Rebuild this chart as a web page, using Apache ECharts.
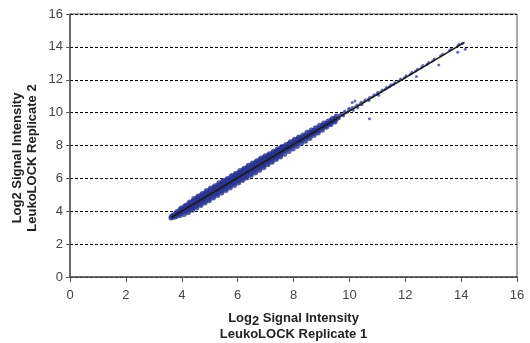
<!DOCTYPE html>
<html>
<head>
<meta charset="utf-8">
<script src="https://cdn.jsdelivr.net/npm/echarts@6/dist/echarts.min.js"></script>
<style>
  html, body { margin: 0; padding: 0; background: #fff; }
  #chart { width: 530px; height: 343px; }
</style>
</head>
<body>
<div id="chart"></div>
<script>
// axis ticks
const axisTicks = [0, 2, 4, 6, 8, 10, 12, 14, 16];

// replicate 1 (x) vs replicate 2 (y)
const densePoints = [
  [3.62,3.60],[3.65,3.70],[3.68,3.64],[3.70,3.76],
  [3.76,3.74],[3.79,3.88],[3.82,3.79],[3.84,3.97],[3.78,3.66],[3.85,3.84],
  [3.91,3.86],[3.94,4.04],[3.97,3.95],[3.99,4.18],[3.93,3.74],[4.00,3.99],[3.96,4.12],
  [4.06,3.98],[4.09,4.20],[4.12,4.09],[4.14,4.35],[4.08,3.82],[4.15,4.16],[4.11,4.27],
  [4.21,4.15],[4.24,4.38],[4.27,4.25],[4.29,4.55],[4.23,3.93],[4.30,4.31],[4.26,4.45],[4.22,4.04],
  [4.36,4.30],[4.39,4.54],[4.42,4.41],[4.44,4.76],[4.38,4.08],[4.45,4.47],[4.41,4.63],[4.37,4.18],
  [4.51,4.46],[4.54,4.70],[4.57,4.56],[4.59,4.92],[4.53,4.22],[4.60,4.62],[4.56,4.80],[4.52,4.33],
  [4.66,4.61],[4.69,4.86],[4.72,4.70],[4.74,5.06],[4.68,4.36],[4.75,4.78],[4.71,4.97],[4.67,4.47],
  [4.81,4.77],[4.84,5.02],[4.87,4.88],[4.89,5.24],[4.83,4.52],[4.90,4.93],[4.86,5.12],[4.82,4.62],
  [4.96,4.93],[4.99,5.17],[5.02,5.02],[5.04,5.40],[4.98,4.66],[5.05,5.09],[5.01,5.28],[4.97,4.78],
  [5.11,5.08],[5.14,5.33],[5.17,5.17],[5.19,5.53],[5.13,4.82],[5.20,5.24],[5.16,5.44],[5.12,4.93],
  [5.26,5.24],[5.29,5.49],[5.32,5.33],[5.34,5.72],[5.28,4.97],[5.35,5.40],[5.31,5.60],[5.27,5.08],
  [5.41,5.39],[5.44,5.64],[5.47,5.49],[5.49,5.86],[5.43,5.12],[5.50,5.55],[5.46,5.76],[5.42,5.24],
  [5.56,5.54],[5.59,5.80],[5.62,5.63],[5.64,5.98],[5.58,5.27],[5.65,5.71],[5.61,5.90],[5.57,5.38],
  [5.71,5.70],[5.74,5.95],[5.77,5.80],[5.79,6.16],[5.73,5.43],[5.80,5.86],[5.76,6.06],[5.72,5.55],
  [5.86,5.85],[5.89,6.11],[5.92,5.94],[5.94,6.30],[5.88,5.58],[5.95,6.02],[5.91,6.21],[5.87,5.70],
  [6.01,6.00],[6.04,6.26],[6.07,6.10],[6.09,6.46],[6.03,5.73],[6.10,6.17],[6.06,6.36],[6.02,5.85],
  [6.16,6.15],[6.19,6.42],[6.22,6.24],[6.24,6.60],[6.18,5.89],[6.25,6.32],[6.21,6.52],[6.17,6.00],
  [6.31,6.31],[6.34,6.57],[6.37,6.40],[6.39,6.78],[6.33,6.04],[6.40,6.48],[6.36,6.67],[6.32,6.16],
  [6.46,6.46],[6.49,6.72],[6.52,6.55],[6.54,6.92],[6.48,6.19],[6.55,6.63],[6.51,6.82],[6.47,6.31],
  [6.61,6.61],[6.64,6.88],[6.67,6.70],[6.69,7.06],[6.63,6.34],[6.70,6.78],[6.66,6.97],[6.62,6.46],
  [6.76,6.77],[6.79,7.03],[6.82,6.86],[6.84,7.22],[6.78,6.50],[6.85,6.94],[6.81,7.13],[6.77,6.62],
  [6.91,6.92],[6.94,7.18],[6.97,7.01],[6.99,7.36],[6.93,6.66],[7.00,7.09],[6.96,7.27],[6.92,6.77],
  [7.06,7.07],[7.09,7.31],[7.12,7.16],[7.14,7.49],[7.08,6.84],[7.15,7.24],[7.11,7.40],[7.07,6.93],
  [7.21,7.23],[7.24,7.46],[7.27,7.32],[7.29,7.64],[7.23,7.00],[7.30,7.39],[7.26,7.55],[7.22,7.09],
  [7.36,7.38],[7.39,7.60],[7.42,7.47],[7.44,7.78],[7.38,7.16],[7.45,7.54],[7.41,7.69],[7.37,7.25],
  [7.51,7.53],[7.54,7.75],[7.57,7.62],[7.59,7.92],[7.53,7.31],[7.60,7.69],[7.56,7.84],[7.52,7.40],
  [7.66,7.68],[7.69,7.88],[7.72,7.77],[7.74,8.05],[7.68,7.49],[7.75,7.84],[7.71,7.96],
  [7.81,7.84],[7.84,8.04],[7.87,7.93],[7.89,8.21],[7.83,7.65],[7.90,8.00],[7.86,8.12],
  [7.96,7.99],[7.99,8.19],[8.02,8.08],[8.04,8.36],[7.98,7.80],[8.05,8.15],[8.01,8.26],
  [8.11,8.14],[8.14,8.33],[8.17,8.23],[8.19,8.50],[8.13,7.96],[8.20,8.30],[8.16,8.40],
  [8.26,8.30],[8.29,8.47],[8.32,8.38],[8.34,8.63],[8.28,8.13],[8.35,8.44],
  [8.41,8.45],[8.44,8.62],[8.47,8.53],[8.49,8.79],[8.43,8.28],[8.50,8.59],
  [8.56,8.60],[8.59,8.77],[8.62,8.68],[8.64,8.93],[8.58,8.44],[8.65,8.74],
  [8.71,8.76],[8.74,8.91],[8.77,8.84],[8.79,9.07],[8.73,8.62],[8.80,8.89],
  [8.86,8.91],[8.89,9.06],[8.92,8.99],[8.94,9.21],[8.88,8.78],[8.95,9.04],
  [9.01,9.06],[9.04,9.20],[9.07,9.14],[9.09,9.35],[9.03,8.94],[9.10,9.19],
  [9.16,9.21],[9.19,9.34],[9.22,9.29],[9.24,9.47],[9.18,9.12],
  [9.31,9.37],[9.34,9.50],[9.37,9.44],[9.39,9.63],[9.33,9.28],
  [9.46,9.52],[9.49,9.65],[9.52,9.59],[9.54,9.78],[9.48,9.44]
];

const sparsePoints = [
  [9.62,9.72],[9.66,9.85],[9.70,9.92],[9.64,9.62],
  [9.77,9.88],[9.81,10.02],[9.84,10.10],[9.79,9.80],
  [9.93,10.04],[9.97,10.18],[9.99,10.26],
  [10.07,10.20],[10.11,10.33],[10.14,10.15],[10.10,10.62],
  [10.22,10.36],[10.27,10.47],[10.30,10.30],[10.20,10.70],
  [10.38,10.51],[10.42,10.63],[10.45,10.48],
  [10.52,10.66],[10.57,10.78],
  [10.68,10.81],[10.73,10.93],[10.70,10.74],[10.72,9.63],
  [10.83,10.96],[10.88,11.08],
  [10.98,11.12],[11.02,11.24],[11.05,11.06],
  [11.13,11.27],[11.18,11.38],
  [11.28,11.42],[11.33,11.55],
  [11.43,11.58],[11.48,11.70],
  [11.58,11.72],[11.63,11.84],
  [11.78,11.93],[11.83,12.05],
  [11.97,12.12],[12.03,12.24],
  [12.18,12.33],[12.24,12.45],
  [12.37,12.53],[12.44,12.64],[12.40,12.20],
  [12.58,12.74],[12.63,12.86],
  [12.78,12.94],[12.84,13.05],
  [12.98,13.14],[13.04,13.26],
  [13.27,13.46],[13.34,13.55],[13.20,12.90],
  [13.58,13.76],[13.64,13.85],
  [13.88,14.05],[13.93,14.16],[13.88,13.68],
  [14.04,14.20],[14.15,13.85]
];

// fitted line end points
const trendLine = [[3.62, 3.62], [14.12, 14.27]];

const chart = echarts.init(document.getElementById('chart'));

const axisFont = { fontFamily: 'Liberation Sans', fontSize: 13, color: '#444' };
const titleFont = { fontFamily: 'Liberation Sans', fontSize: 13, fontWeight: 'bold', color: '#222' };

chart.setOption({
  animation: false,
  grid: {
    left: 70,
    right: 13,
    top: 14,
    bottom: 66,
    outerBoundsMode: 'none',
    show: true,
    borderColor: '#555',
    borderWidth: 1
  },
  xAxis: {
    type: 'value',
    min: axisTicks[0],
    max: axisTicks[axisTicks.length - 1],
    interval: 2,
    axisLine: { show: true, lineStyle: { color: '#555', width: 1.5 } },
    axisTick: { show: true, length: 5, lineStyle: { color: '#555' } },
    axisLabel: Object.assign({ margin: 12 }, axisFont),
    splitLine: { show: false },
    name: '{a|Log}{s|2}{a| Signal Intensity}\n{a|LeukoLOCK Replicate 1}',
    nameLocation: 'middle',
    nameMoveOverlap: false,
    nameGap: 33,
    nameTextStyle: {
      rich: {
        a: Object.assign({ lineHeight: 16 }, titleFont),
        s: Object.assign({ lineHeight: 10, padding: [6, 0, 0, 0] }, titleFont)
      }
    }
  },
  yAxis: {
    type: 'value',
    min: axisTicks[0],
    max: axisTicks[axisTicks.length - 1],
    interval: 2,
    axisLine: { show: true, lineStyle: { color: '#555', width: 1.5 } },
    axisTick: { show: true, length: 4, lineStyle: { color: '#555' } },
    axisLabel: Object.assign({ margin: 7 }, axisFont),
    splitLine: { show: true, lineStyle: { color: '#000', type: [3, 2], width: 1 } },
    name: 'Log2 Signal Intensity\nLeukoLOCK Replicate 2',
    nameLocation: 'middle',
    nameMoveOverlap: false,
    nameRotate: 90,
    nameGap: 30,
    nameTextStyle: Object.assign({ lineHeight: 15, padding: [0, 25, 0, 0] }, titleFont)
  },
  series: [
    {
      type: 'scatter',
      data: densePoints,
      symbolSize: 5.5,
      itemStyle: { color: '#2a3590' },
      z: 2
    },
    {
      type: 'scatter',
      data: sparsePoints,
      symbolSize: 3,
      itemStyle: { color: '#3a46a0' },
      z: 2
    },
    {
      type: 'line',
      data: trendLine,
      showSymbol: false,
      symbol: 'none',
      lineStyle: { color: '#1a1a1a', width: 1.5 },
      z: 3
    }
  ]
});

window.addEventListener('resize', () => chart.resize());
</script>
</body>
</html>
